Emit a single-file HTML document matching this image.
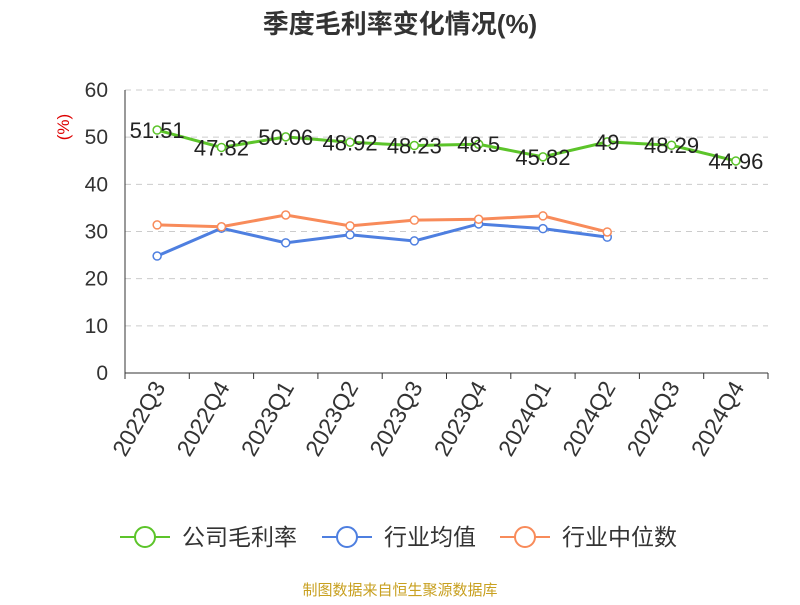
<!DOCTYPE html>
<html><head><meta charset="utf-8"><style>
body{margin:0;background:#fff;font-family:"Liberation Sans","Noto Sans CJK SC",sans-serif}
</style></head><body>
<svg id="c" width="800" height="600" xmlns="http://www.w3.org/2000/svg" font-family="Liberation Sans, Noto Sans CJK SC, sans-serif"></svg>
<script>
const categories=["2022Q3","2022Q4","2023Q1","2023Q2","2023Q3","2023Q4","2024Q1","2024Q2","2024Q3","2024Q4"];
const companyValues=[51.51,47.82,50.06,48.92,48.23,48.5,45.82,49,48.29,44.96];
const industryAvg=[24.8,30.7,27.6,29.3,28.0,31.6,30.6,28.8];
const industryMedian=[31.4,31.0,33.5,31.2,32.4,32.6,33.3,29.9];
const yTicks=[0,10,20,30,40,50,60];
const svg=document.getElementById('c');const NS="http://www.w3.org/2000/svg";
const x0=125,x1=768,yb=373,yt=90,ymax=60;
const bw=(x1-x0)/categories.length;
const X=i=>x0+bw*(i+0.5), Y=v=>yb-(v/ymax)*(yb-yt);
function el(t,a,p){const e=document.createElementNS(NS,t);for(const k in a)e.setAttribute(k,a[k]);(p||svg).appendChild(e);return e;}
let t=el('text',{x:400,y:33,'text-anchor':'middle','font-size':26,'font-weight':'bold',fill:'#333'});t.textContent='季度毛利率变化情况(%)';

t=el('text',{x:69,y:127,'text-anchor':'middle','font-size':17,fill:'#d00',transform:'rotate(-90 69 127)'});t.textContent='(%)';

yTicks.forEach(v=>{const y=Y(v);
 if(v>0){const g=el('line',{x1:x0,x2:x1,y1:y,y2:y,stroke:'#ccc','stroke-dasharray':'6,5'});}
 const l=el('text',{x:108,y:y+7,'text-anchor':'end','font-size':21,fill:'#333'});l.textContent=v;
 });
let ax=el('line',{x1:x0,x2:x0,y1:yt,y2:yb,stroke:'#333'});
ax=el('line',{x1:x0,x2:x1,y1:yb,y2:yb,stroke:'#333'});
for(let i=0;i<=categories.length;i++){const x=x0+bw*i;el('line',{x1:x,x2:x,y1:yb,y2:yb+6,stroke:'#333'});}
categories.forEach((c,i)=>{const x=X(i)+9,y=yb+14;const l=el('text',{x:x,y:y,'text-anchor':'end','font-size':23,fill:'#333',transform:`rotate(-60 ${x} ${y})`});l.textContent=c;
 });
function series(vals,color,name,labels){
 const g=el('g',{});
 el('polyline',{points:vals.map((v,i)=>X(i)+','+Y(v)).join(' '),fill:'none',stroke:color,'stroke-width':3},g);
 vals.forEach((v,i)=>{const p=el('circle',{cx:X(i),cy:Y(v),r:4,fill:'#fff',stroke:color,'stroke-width':1.5},g);
  
  if(labels){const l=el('text',{x:X(i),y:Y(v)+8,'text-anchor':'middle','font-size':22,fill:'#222'},g);l.textContent=v;
   }});
}
series(industryAvg,'#4e7fe0','industry-average-line',false);
series(industryMedian,'#f88b5a','industry-median-line',false);
series(companyValues,'#5cc42a','company-margin-line',true);
const leg=[['公司毛利率','#5cc42a',120],['行业均值','#4e7fe0',322],['行业中位数','#f88b5a',500]];
leg.forEach(([n,c,x])=>{const g=el('g',{});
 el('line',{x1:x,x2:x+50,y1:537,y2:537,stroke:c,'stroke-width':2},g);
 el('circle',{cx:x+25,cy:537,r:10,fill:'#fff',stroke:c,'stroke-width':2},g);
 const l=el('text',{x:x+62,y:545,'font-size':23,fill:'#333'},g);l.textContent=n;});
t=el('text',{x:400,y:595,'text-anchor':'middle','font-size':15,fill:'#c8a020'});t.textContent='制图数据来自恒生聚源数据库';

</script></body></html>
